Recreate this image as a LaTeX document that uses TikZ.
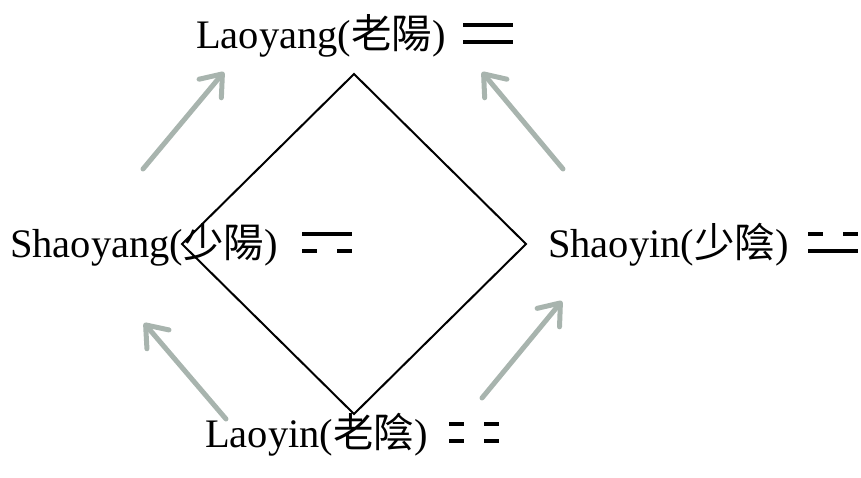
\documentclass[tikz,border=0pt]{standalone}
\usepackage{fontspec}
\setmainfont{Liberation Serif}
\newfontfamily\cjk{Noto Sans CJK TC}
\usetikzlibrary{arrows.meta}
\definecolor{arrowc}{RGB}{168,180,174}
\tikzset{
  label/.style={anchor=base west, inner sep=0pt, font=\fontsize{40.5}{48}\selectfont},
  yao/.style={line width=3.6pt},
  flow/.style={arrowc, line width=5pt, line cap=round,
    -{Straight Barb[length=19pt,width=29pt,round]}},
  frame/.style={line width=2pt, line join=miter}
}
\begin{document}
\begin{tikzpicture}[x=1pt,y=-1pt]
\useasboundingbox (0,0) rectangle (861,477);
% diamond
\coordinate (dt) at (354,74);
\coordinate (dr) at (526,244);
\coordinate (db) at (354,414);
\coordinate (dl) at (182,244);
\draw[frame] (dt) -- (dr) -- (db) -- (dl) -- cycle;
% labels
\node[label] (laoyang)  at (196,48)  {Laoyang({\cjk 老陽})};
\node[label] (shaoyang) at (10,257)  {Shaoyang({\cjk 少陽})};
\node[label] (shaoyin)  at (548,257) {Shaoyin({\cjk 少陰})};
\node[label] (laoyin)   at (205,447) {Laoyin({\cjk 老陰})};
% digram symbols
% Laoyang: two solid lines
\draw[yao] (463,25) -- (513,25);
\draw[yao] (463,42) -- (513,42);
% Shaoyang: solid over broken
\draw[yao] (302,234) -- (352,234);
\draw[yao] (302,251) -- (317,251) (337,251) -- (352,251);
% Shaoyin: broken over solid
\draw[yao] (808,234) -- (823,234) (843,234) -- (858,234);
\draw[yao] (808,251) -- (858,251);
% Laoyin: two broken lines
\draw[yao] (449,424) -- (464,424) (484,424) -- (499,424);
\draw[yao] (449,441) -- (464,441) (484,441) -- (499,441);
% arrows
\coordinate (a1s) at (143,169); \coordinate (a1e) at (224,72);
\coordinate (a2s) at (563,169); \coordinate (a2e) at (482,72);
\coordinate (a3s) at (226,419); \coordinate (a3e) at (144,323);
\coordinate (a4s) at (482,398); \coordinate (a4e) at (562,301);
\draw[flow] (a1s) -- (a1e);
\draw[flow] (a2s) -- (a2e);
\draw[flow] (a3s) -- (a3e);
\draw[flow] (a4s) -- (a4e);
\end{tikzpicture}
\end{document}
